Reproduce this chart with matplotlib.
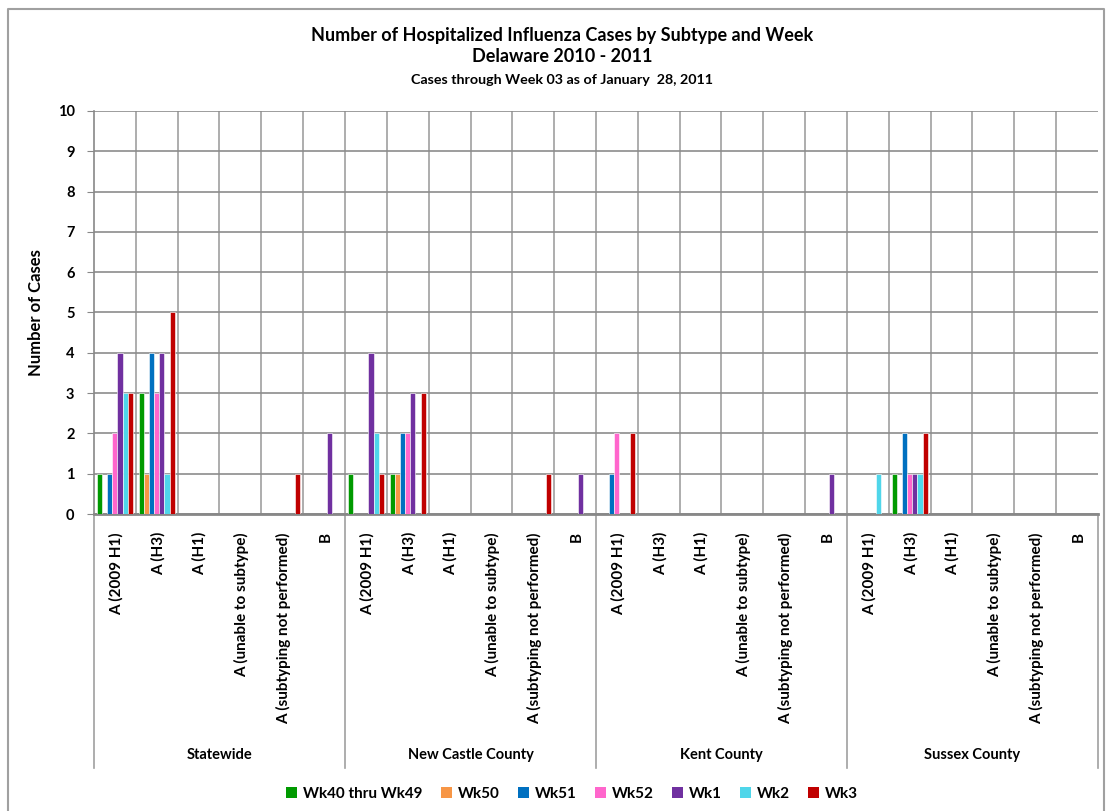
import numpy as np
import matplotlib.pyplot as plt
from matplotlib.patches import Patch
from matplotlib.lines import Line2D

plt.rcParams['font.family'] = ['Lato', 'DejaVu Sans']

# categories
groups = ['Statewide', 'New Castle County', 'Kent County', 'Sussex County']
subtypes = ['A (2009 H1)', 'A (H3)', 'A (H1)', 'A (unable to subtype)',
            'A (subtyping not performed)', 'B']
weeks = ['Wk40 thru Wk49', 'Wk50', 'Wk51', 'Wk52', 'Wk1', 'Wk2', 'Wk3']
colors = ['#009A00', '#F79646', '#0070C0', '#FF66CC', '#7030A0', '#4FD6EA', '#C00000']

# cases per week, 24 categories (group x subtype)
wk40_49 = [1, 3, 0, 0, 0, 0,  1, 1, 0, 0, 0, 0,  0, 0, 0, 0, 0, 0,  0, 1, 0, 0, 0, 0]
wk50    = [0, 1, 0, 0, 0, 0,  0, 1, 0, 0, 0, 0,  0, 0, 0, 0, 0, 0,  0, 0, 0, 0, 0, 0]
wk51    = [1, 4, 0, 0, 0, 0,  0, 2, 0, 0, 0, 0,  1, 0, 0, 0, 0, 0,  0, 2, 0, 0, 0, 0]
wk52    = [2, 3, 0, 0, 0, 0,  0, 2, 0, 0, 0, 0,  2, 0, 0, 0, 0, 0,  0, 1, 0, 0, 0, 0]
wk1     = [4, 4, 0, 0, 0, 2,  4, 3, 0, 0, 0, 1,  0, 0, 0, 0, 0, 1,  0, 1, 0, 0, 0, 0]
wk2     = [3, 1, 0, 0, 0, 0,  2, 0, 0, 0, 0, 0,  0, 0, 0, 0, 0, 0,  1, 1, 0, 0, 0, 0]
wk3     = [3, 5, 0, 0, 1, 0,  1, 3, 0, 0, 1, 0,  2, 0, 0, 0, 0, 0,  0, 2, 0, 0, 0, 0]
series = [wk40_49, wk50, wk51, wk52, wk1, wk2, wk3]

n = len(groups) * len(subtypes)
x = np.arange(n)

fig = plt.figure(figsize=(11.07, 8.11), dpi=100)
W, H = 1107, 811
x0, x1, y0, y1 = 94, 1098, 514, 111
ax = fig.add_axes([x0 / W, 1 - y0 / H, (x1 - x0) / W, (y0 - y1) / H])

bw = 0.122
for i, (vals, c) in enumerate(zip(series, colors)):
    ax.bar(x + (i - 3) * bw, vals, width=bw, color=c, edgecolor='white',
           linewidth=0.4, zorder=3)

ax.set_xlim(-0.5, n - 0.5)
ax.set_ylim(0, 10)
ax.set_yticks(range(0, 11))
ax.set_yticklabels([str(v) for v in range(0, 11)], fontsize=10.5, fontweight='bold')
ax.tick_params(axis='y', length=5, color='#888888', pad=9)
ax.set_xticks([])
ax.grid(axis='y', color='#8c8c8c', linewidth=1.2, zorder=0)
for b in np.arange(0.5, n - 0.5, 1):
    ax.axvline(b, color='#a0a0a0', linewidth=1.2, zorder=0)
for s in ['top', 'right']:
    ax.spines[s].set_visible(False)
ax.spines['left'].set_color('#888888')
ax.spines['bottom'].set_color('#888888')
ax.spines['bottom'].set_linewidth(2)
ax.spines['left'].set_linewidth(1.2)

ax.set_ylabel('Number of Cases', fontsize=12, fontweight='bold', labelpad=10)

# category labels
trans = ax.get_xaxis_transform()
label_top = -(532 - y0) / (y0 - y1)
for k in range(n):
    ax.text(x[k] + 0.03, label_top, subtypes[k % len(subtypes)], rotation=90,
            ha='center', va='top', fontsize=11, fontweight='bold', transform=trans)

# group separators and labels
line_bottom = -(768 - y0) / (y0 - y1)
grp_y = -(755 - y0) / (y0 - y1)
for g in range(len(groups) + 1):
    xb = g * len(subtypes) - 0.5
    ax.add_line(Line2D([xb, xb], [0, line_bottom], color='#a0a0a0', linewidth=1.2,
                       transform=trans, clip_on=False))
for g, name in enumerate(groups):
    ax.text(g * len(subtypes) + 2.5, grp_y, name, ha='center', va='center',
            fontsize=10.5, fontweight='bold', transform=trans)

# titles
fig.text(0.508, 1 - 35 / H, 'Number of Hospitalized Influenza Cases by Subtype and Week',
         ha='center', va='center', fontsize=13, fontweight='bold')
fig.text(0.508, 1 - 57 / H, 'Delaware 2010 - 2011', ha='center', va='center',
         fontsize=13, fontweight='bold')
fig.text(0.508, 1 - 80 / H, 'Cases through Week 03 as of January  28, 2011',
         ha='center', va='center', fontsize=10.3, fontweight='bold')

# legend
handles = [Patch(facecolor=c, edgecolor='none') for c in colors]
fig.legend(handles, weeks, loc='center', bbox_to_anchor=(0.517, 1 - 794 / H), ncol=7,
           frameon=False, prop={'size': 11, 'weight': 'bold'}, handlelength=0.7,
           handleheight=0.7, handletextpad=0.4, columnspacing=1.2)

# chart border
fig.add_artist(Line2D([8 / W, 8 / W, 1104 / W, 1104 / W], [0, 1 - 9 / H, 1 - 9 / H, 0],
                      color='#a0a0a0', linewidth=1.5, transform=fig.transFigure))

fig.savefig('out.png', dpi=100)
